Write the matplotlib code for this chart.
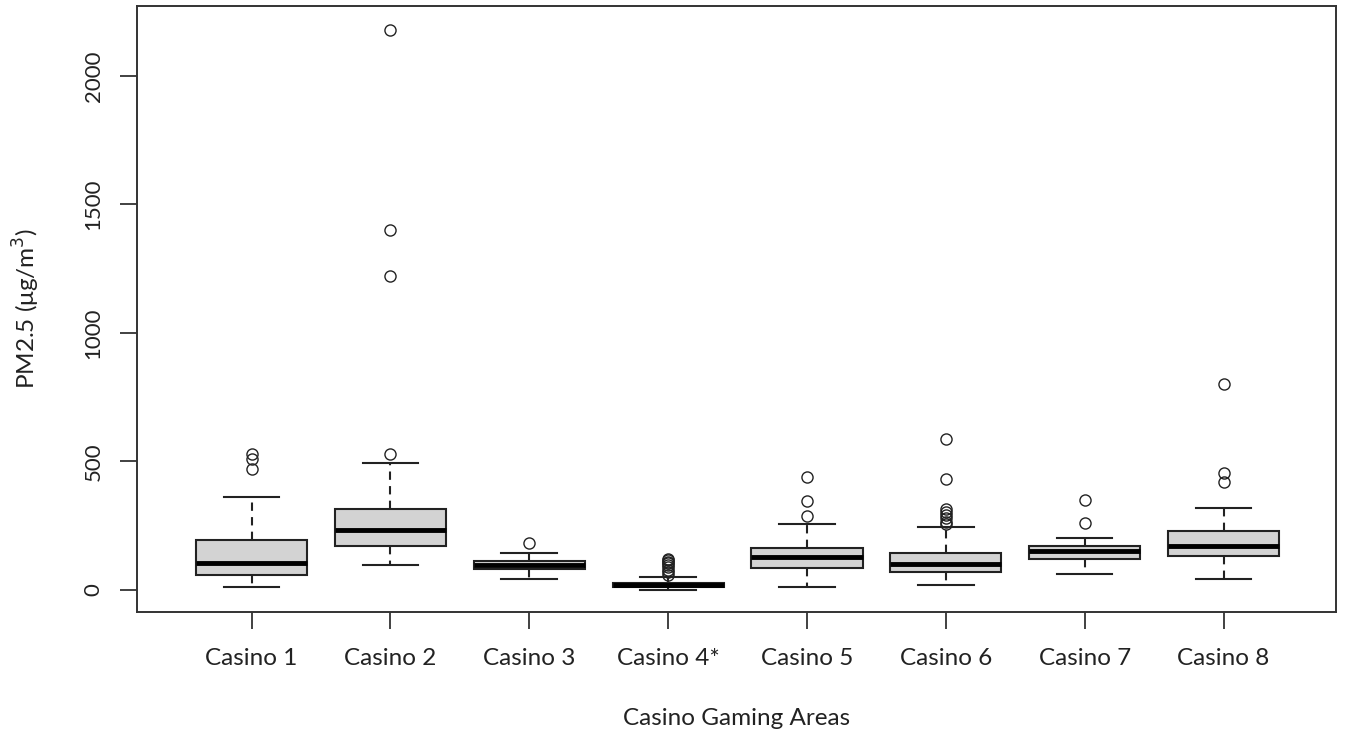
import matplotlib
matplotlib.use("Agg")
import matplotlib.pyplot as plt

plt.rcParams['font.family'] = ['Lato', 'DejaVu Sans']

casinos = ['Casino 1', 'Casino 2', 'Casino 3', 'Casino 4*',
           'Casino 5', 'Casino 6', 'Casino 7', 'Casino 8']
# box statistics (ug/m3)
q1 = [57, 169, 80, 10, 87, 70, 119, 130]
med = [106, 233, 97, 19, 127, 101, 152, 171]
q3 = [195, 314, 114, 28, 163, 143, 169, 231]
whislo = [13, 95, 44, 0, 13, 19, 63, 44]
whishi = [363, 495, 144, 52, 257, 244, 201, 320]
fliers = [
    [470, 510, 528],
    [527, 1221, 1400, 2180],
    [182],
    [58, 68, 78, 88, 97, 104, 110, 115, 120],
    [288, 345, 439],
    [257, 266, 278, 292, 305, 316, 432, 587],
    [262, 350],
    [419, 454, 801],
]

stats = []
for i in range(len(casinos)):
    stats.append({'label': casinos[i], 'q1': q1[i], 'med': med[i], 'q3': q3[i],
                  'whislo': whislo[i], 'whishi': whishi[i], 'fliers': fliers[i]})

fig = plt.figure(figsize=(13.45, 7.36), dpi=100)
ax = fig.add_axes([137 / 1345, 124 / 736, 1199 / 1345, 606 / 736])

ax.bxp(stats, positions=range(1, 9), widths=0.8, capwidths=0.4,
       patch_artist=True,
       boxprops=dict(facecolor='#d3d3d3', edgecolor='#222222', linewidth=1.5),
       medianprops=dict(color='black', linewidth=3.5, solid_capstyle='butt'),
       whiskerprops=dict(color='#222222', linewidth=1.5, linestyle=(0, (4, 3))),
       capprops=dict(color='#222222', linewidth=1.5),
       flierprops=dict(marker='o', markersize=8, markerfacecolor='none',
                       markeredgecolor='#222222', markeredgewidth=1.0))

ax.set_xlim(0.175, 8.81)
ax.set_ylim(-86, 2272)
ax.set_yticks([0, 500, 1000, 1500, 2000])
ax.set_yticklabels(['0', '500', '1000', '1500', '2000'], rotation=90, va='center')

for s in ['left', 'bottom', 'top', 'right']:
    ax.spines[s].set_linewidth(1.4)
    ax.spines[s].set_color('#333333')

ax.tick_params(axis='both', length=12, width=1.3, color='#333333',
               labelcolor='#222222')
ax.tick_params(axis='x', pad=14, labelsize=17.5)
ax.tick_params(axis='y', pad=12, labelsize=16)

ax.set_xlabel('Casino Gaming Areas', fontsize=17.5, labelpad=28, color='#222222')
ax.set_ylabel('PM2.5 (μg/m$^3$)', fontsize=17.5, labelpad=30, color='#222222')

fig.savefig('out.png', dpi=100)
